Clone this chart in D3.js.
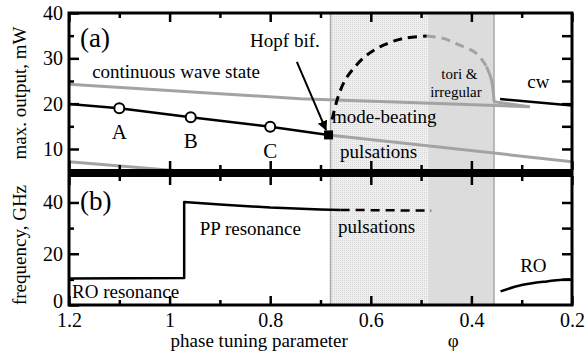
<!DOCTYPE html>
<html>
<head>
<meta charset="utf-8">
<script src="https://cdn.jsdelivr.net/npm/d3@7"></script>
<style>
  body { margin: 0; background: #fff; }
  svg text { font-family: "Liberation Serif", "Times New Roman", Times, "DejaVu Serif", serif !important; fill: #000; }
</style>
</head>
<body>
<script>
// x axis
const xTicks = [1.2, 1, 0.8, 0.6, 0.4, 0.2];
const xMinorTicks = [1.1, 0.9, 0.7, 0.5, 0.3];

// panel (a) max output, mW
const powerTicks = [10, 20, 30, 40];
const powerMinorTicks = [15, 25, 35];
const powerRightTicks = [10, 15, 20, 25, 30, 35];

// panel (b) frequency, GHz
const freqTicks = [0, 20, 40];
const freqMinorTicks = [10, 30];
const freqRightTicks = [10, 20, 30, 40];

// shaded phi ranges
const pulsationRange = [0.68, 0.486];
const toriRange = [0.486, 0.355];

// (a) branches [phi, power]
const cwStable = [[1.2, 19.9], [1.1, 19.0], [0.958, 17.0], [0.8, 14.9], [0.684, 13.1]];
const cwMarked = [[1.1, 19.0, 'A'], [0.958, 17.0, 'B'], [0.8, 14.9, 'C']];
const hopfPoint = [0.684, 13.1];
const cwUnstableUpper = [[1.2, 24.3], [0.74, 21.1], [0.284, 19.3]];
const cwUnstableLowerLeft = [[1.2, 7.2], [0.92, 4.6]];
const cwUnstableLowerRight = [[0.684, 13.1], [0.2, 7.2]];
const cwRight = [[0.343, 21.0], [0.2, 19.6]];
const pulsStable = [[0.677, 16.5], [0.665, 21.5], [0.651, 25.2], [0.631, 28.2], [0.608, 30.7],
                    [0.575, 32.9], [0.535, 34.4], [0.489, 34.9]];
const pulsUnstable = [[0.489, 34.9], [0.456, 34.4], [0.423, 32.9], [0.39, 31.1], [0.37, 28.2]];
const pulsUnstableTail = [[0.37, 28.2], [0.36, 25.2], [0.356, 22.0], [0.355, 20.4]];
const pulsJoin = [[0.355, 20.4], [0.284, 19.3]];

// (b) branches [phi, GHz]
const freqSolid = [[1.2, 10.3], [0.971, 10.5], [0.971, 40.2], [0.9, 39.2], [0.8, 38.0],
                   [0.7, 37.3], [0.66, 37.1]];
const freqDashed = [[0.66, 37.1], [0.48, 36.8]];
const freqRO = [[0.342, 5.3], [0.3, 7.8], [0.25, 9.2], [0.204, 10.0]];

const width = 587;
const height = 353;
const serif = '"Liberation Serif", "Times New Roman", Times, "DejaVu Serif", serif';

const svg = d3.select('body')
    .append('svg')
    .attr('width', width)
    .attr('height', height)
    .attr('font-family', serif);

const x = d3.scaleLinear().domain([1.2, 0.2]).range([69, 572]);
const yA = d3.scaleLinear().domain([4.7, 40]).range([173, 13]);
const yB = d3.scaleLinear().domain([0, 51.5]).range([305, 173]);

const defs = svg.append('defs');
const pat = defs.append('pattern')
    .attr('id', 'dots')
    .attr('width', 2).attr('height', 2)
    .attr('patternUnits', 'userSpaceOnUse');
pat.append('rect').attr('width', 2).attr('height', 2).attr('fill', '#efefef');
pat.append('rect').attr('width', 1).attr('height', 1).attr('fill', '#d6d6d6');

defs.append('clipPath').attr('id', 'clipA')
  .append('rect')
    .attr('x', x(1.2)).attr('y', yA(40))
    .attr('width', x(0.2) - x(1.2)).attr('height', yA(4.7) - yA(40));
defs.append('clipPath').attr('id', 'clipB')
  .append('rect')
    .attr('x', x(1.2)).attr('y', yB(51.5))
    .attr('width', x(0.2) - x(1.2)).attr('height', yB(0) - yB(51.5));

defs.append('marker')
    .attr('id', 'arrow')
    .attr('viewBox', '0 0 10 10')
    .attr('refX', 9).attr('refY', 5)
    .attr('markerWidth', 5).attr('markerHeight', 5)
    .attr('markerUnits', 'strokeWidth')
    .attr('orient', 'auto')
  .append('path')
    .attr('d', 'M0,0 L10,5 L0,10 z')
    .attr('fill', '#000');

// shaded regions over both panels
svg.append('rect')
    .attr('x', x(pulsationRange[0])).attr('y', yA(40))
    .attr('width', x(pulsationRange[1]) - x(pulsationRange[0]))
    .attr('height', yB(0) - yA(40))
    .attr('fill', 'url(#dots)');
svg.append('rect')
    .attr('x', x(toriRange[0])).attr('y', yA(40))
    .attr('width', x(toriRange[1]) - x(toriRange[0]))
    .attr('height', yB(0) - yA(40))
    .attr('fill', '#dcdcdc');
[pulsationRange[0], toriRange[1]].forEach(p => {
    svg.append('line')
        .attr('x1', x(p)).attr('x2', x(p))
        .attr('y1', yA(40)).attr('y2', yB(0))
        .attr('stroke', '#a8a8a8').attr('stroke-width', 1.5);
});

const lineA = d3.line().x(d => x(d[0])).y(d => yA(d[1]));
const curveA = d3.line().x(d => x(d[0])).y(d => yA(d[1])).curve(d3.curveCatmullRom);
const lineB = d3.line().x(d => x(d[0])).y(d => yB(d[1]));
const curveB = d3.line().x(d => x(d[0])).y(d => yB(d[1])).curve(d3.curveCatmullRom);

const gA = svg.append('g').attr('clip-path', 'url(#clipA)');
const gray = '#a3a3a3';

function path(g, data, gen, color, w, dash) {
    g.append('path')
        .datum(data)
        .attr('d', gen)
        .attr('fill', 'none')
        .attr('stroke', color)
        .attr('stroke-width', w)
        .attr('stroke-dasharray', dash || null)
        .attr('stroke-linejoin', 'round');
}

path(gA, cwUnstableUpper, lineA, gray, 3);
path(gA, cwUnstableLowerLeft, lineA, gray, 3);
path(gA, cwUnstableLowerRight, lineA, gray, 3);
path(gA, pulsUnstable, curveA, gray, 3, '9,6');
path(gA, pulsUnstableTail, curveA, gray, 3);
path(gA, pulsJoin, lineA, gray, 3);
path(gA, cwStable, lineA, '#000', 2.5);
path(gA, cwRight, lineA, '#000', 2.5);
path(gA, pulsStable, curveA, '#000', 3, '9,6');

gA.selectAll('circle.pt')
    .data(cwMarked)
    .enter()
    .append('circle')
    .attr('cx', d => x(d[0]))
    .attr('cy', d => yA(d[1]))
    .attr('r', 5)
    .attr('fill', '#fff')
    .attr('stroke', '#000')
    .attr('stroke-width', 2);

svg.selectAll('text.pt')
    .data(cwMarked)
    .enter()
    .append('text')
    .attr('x', d => x(d[0]))
    .attr('y', d => yA(d[1]) + 31)
    .attr('text-anchor', 'middle')
    .attr('font-size', 21)
    .text(d => d[2]);

gA.append('rect')
    .attr('x', x(hopfPoint[0]) - 4.5)
    .attr('y', yA(hopfPoint[1]) - 4.5)
    .attr('width', 9).attr('height', 9)
    .attr('fill', '#000');

svg.append('line')
    .attr('x1', x(0.747)).attr('y1', yA(29.2))
    .attr('x2', x(0.689)).attr('y2', yA(14.2))
    .attr('stroke', '#000').attr('stroke-width', 2)
    .attr('marker-end', 'url(#arrow)');

const gB = svg.append('g').attr('clip-path', 'url(#clipB)');
path(gB, freqSolid, lineB, '#000', 2.5);
path(gB, freqDashed, lineB, '#000', 2.5, '9,6');
path(gB, freqRO, curveB, '#000', 2.5);

// frame
svg.append('rect')
    .attr('x', x(1.2)).attr('y', yA(40))
    .attr('width', x(0.2) - x(1.2)).attr('height', yB(0) - yA(40))
    .attr('fill', 'none').attr('stroke', '#000').attr('stroke-width', 3);
svg.append('line')
    .attr('x1', x(1.2)).attr('x2', x(0.2))
    .attr('y1', yA(4.7)).attr('y2', yA(4.7))
    .attr('stroke', '#000').attr('stroke-width', 8);

function tickAxis(axis, pos, values, size, labels) {
    const g = svg.append('g')
        .attr('transform', pos)
        .call(axis.tickValues(values).tickSizeInner(size).tickSizeOuter(0)
            .tickPadding(6).tickFormat(labels ? (d => String(d)) : ''));
    g.attr('font-family', serif).attr('font-size', 20);
    g.select('.domain').remove();
    g.selectAll('line').attr('stroke', '#000').attr('stroke-width', 2.5);
    g.selectAll('text').attr('fill', '#000');
    return g;
}

// x ticks
tickAxis(d3.axisTop(x), `translate(0,${yA(40)})`, xTicks, -9);
tickAxis(d3.axisTop(x), `translate(0,${yA(40)})`, xMinorTicks, -5);
tickAxis(d3.axisTop(x), `translate(0,${yA(4.7) - 3})`, xTicks, 9);
tickAxis(d3.axisTop(x), `translate(0,${yA(4.7) - 3})`, xMinorTicks, 5);
tickAxis(d3.axisBottom(x), `translate(0,${yA(4.7) + 3})`, xTicks, 9);
tickAxis(d3.axisBottom(x), `translate(0,${yA(4.7) + 3})`, xMinorTicks, 5);
tickAxis(d3.axisTop(x), `translate(0,${yB(0)})`, xMinorTicks, 5);
tickAxis(d3.axisTop(x), `translate(0,${yB(0)})`, xTicks, 9);
const xLab = tickAxis(d3.axisBottom(x), `translate(0,${yB(0)})`, xTicks, 0, true);
xLab.selectAll('text').attr('y', 22).attr('dy', null);

// y ticks, panel (a)
tickAxis(d3.axisLeft(yA), `translate(${x(1.2)},0)`, powerTicks, -10, true);
tickAxis(d3.axisLeft(yA), `translate(${x(1.2)},0)`, powerMinorTicks, -5);
tickAxis(d3.axisRight(yA), `translate(${x(0.2)},0)`, powerRightTicks, -10);

// y ticks, panel (b)
const yLabB = tickAxis(d3.axisLeft(yB), `translate(${x(1.2)},0)`, freqTicks, -10, true);
yLabB.selectAll('text').filter(d => d === 0).attr('dy', '0.1em');
tickAxis(d3.axisLeft(yB), `translate(${x(1.2)},0)`, freqMinorTicks, -5);
tickAxis(d3.axisRight(yB), `translate(${x(0.2)},0)`, freqRightTicks, -10);

// axis titles
svg.append('text')
    .attr('transform', `translate(26,${(yA(40) + yA(4.7)) / 2}) rotate(-90)`)
    .attr('text-anchor', 'middle')
    .attr('font-size', 19)
    .text('max. output, mW');
svg.append('text')
    .attr('transform', `translate(26,${(yB(0) + yB(51.5)) / 2 + 6}) rotate(-90)`)
    .attr('text-anchor', 'middle')
    .attr('font-size', 19)
    .text('frequency, GHz');
svg.append('text')
    .attr('x', x(0.998)).attr('y', 347)
    .attr('font-size', 19)
    .text('phase tuning parameter');
svg.append('text')
    .attr('x', x(0.447)).attr('y', 347)
    .attr('font-size', 19)
    .text('φ');

// annotations
function note(px, py, str, size) {
    svg.append('text')
        .attr('x', px).attr('y', py)
        .attr('font-size', size || 19)
        .text(str);
}
note(x(1.178), yA(32.6), '(a)', 27);
note(x(1.178), yB(37.1), '(b)', 27);
note(x(1.154), yA(25.66), 'continuous wave state');
note(x(0.84), yA(32.5), 'Hopf bif.');
note(x(0.677), yA(15.73), 'mode-beating');
note(x(0.661), yA(8.0), 'pulsations');
note(x(0.46), yA(25.5), 'tori &', 15);
note(x(0.482), yA(21.4), 'irregular', 15);
note(x(0.289), yA(23.45), 'cw');
note(x(0.94), yB(27.3), 'PP resonance');
note(x(0.665), yB(28.1), 'pulsations');
note(x(1.194), yB(2.7), 'RO resonance');
note(x(0.303), yB(12.9), 'RO');
</script>
</body>
</html>
